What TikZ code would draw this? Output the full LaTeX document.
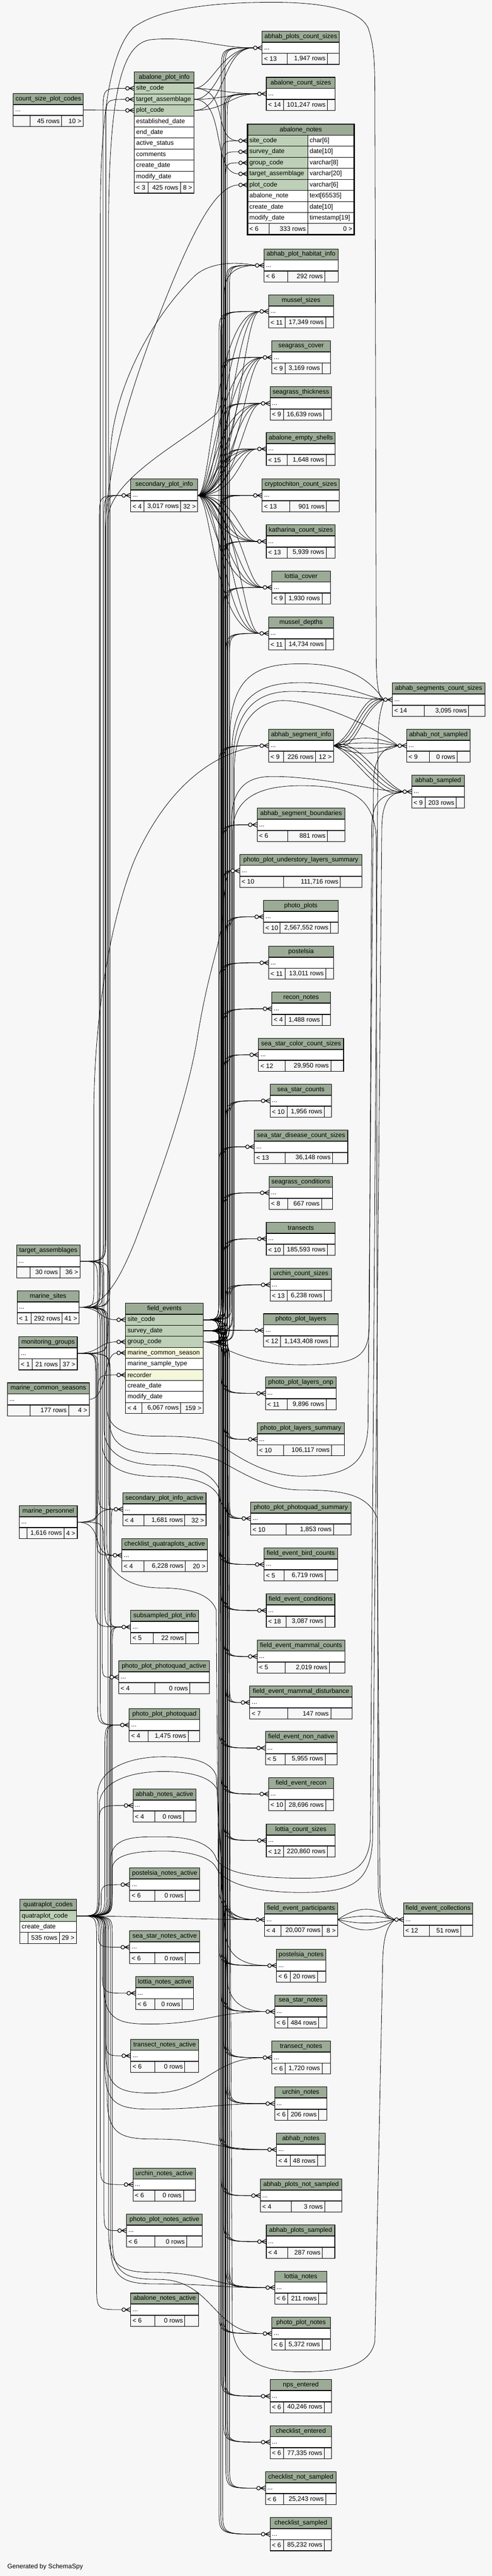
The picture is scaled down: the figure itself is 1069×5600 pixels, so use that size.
\documentclass[tikz,border=0pt]{standalone}
\usepackage{fontspec}
\setmainfont{Liberation Sans}
\usetikzlibrary{calc}
\pgfdeclarelayer{bglayer}
\pgfdeclarelayer{edgelayer}
\pgfsetlayers{bglayer,edgelayer,main}
\definecolor{bgc}{HTML}{F7F7F7}
\definecolor{hdrc}{HTML}{9BAB96}
\definecolor{keyc}{HTML}{BED1B8}
\definecolor{idxc}{HTML}{F4F7DA}
\newcommand{\schfont}{\fontsize{14}{16}\selectfont}
\tikzset{
  cellst/.style={draw=black, line width=1pt, inner sep=0pt, outer sep=0pt, minimum height=24pt},
  txt/.style={inner sep=0pt, font=\schfont, anchor=west},
  rel/.style={draw=black, line width=0.9pt},
  mkst/.style={draw=black, line width=1.3pt},
}
\newcommand{\Thdr}[5]{%
  \pgfmathsetmacro\schW{#3-#2}%
  \node[cellst, fill=hdrc, minimum width=\schW pt, anchor=north west] (#1) at (#2,#4) {};%
  \node[txt, anchor=center] (#1-title) at (#1.center) {#5};%
}
\newcommand{\Tbody}[4]{%
  \pgfmathsetmacro\schW{#3-#2}%
  \node[cellst, fill=white, minimum width=\schW pt, anchor=north west] (#1-b) at (#2,#4) {};%
  \node[txt] (#1-dots) at ([xshift=4pt,yshift=-3pt]#1-b.west) {...};%
  \coordinate (#1-in) at ([xshift=-19pt]#1-b.west);%
  \coordinate (#1-out) at (#1-b.east);%
}
\newcommand{\Tfoot}[9]{%
  \pgfmathsetmacro\schWa{#3-#2}\pgfmathsetmacro\schWb{#4-#3}\pgfmathsetmacro\schWc{#5-#4}%
  \node[cellst, fill=bgc, minimum width=\schWa pt, anchor=north west] (#1-f1) at (#2,#6) {};%
  \node[cellst, fill=bgc, minimum width=\schWb pt, anchor=north west] (#1-f2) at (#3,#6) {};%
  \node[cellst, fill=bgc, minimum width=\schWc pt, anchor=north west] (#1-f3) at (#4,#6) {};%
  \node[txt] (#1-fa) at ([xshift=4pt]#1-f1.west) {#7};%
  \node[txt, anchor=east] (#1-fb) at ([xshift=-4pt]#1-f2.east) {#8};%
  \node[txt, anchor=east] (#1-fc) at ([xshift=-4pt]#1-f3.east) {#9};%
}
\def\Tdbfoot#1#2#3#4#5#6#7|#8|#9\relax{\Tfoot{#1}{#2}{#3}{#4}{#5}{#6}{#7}{#8}{#9}}
\newcommand{\Tdb}[8]{%
  \Thdr{#1}{#2}{#3}{#4}{#5}%
  \Tbody{#1}{#2}{#3}{#4+24}%
  \Tdbfoot{#1}{#2}{#6}{#7}{#3}{#4+48}#8\relax
  \draw[line width=2pt] (#1.south west) -- (#1.south east) (#1-b.south west) -- (#1-b.south east);%
  \draw[line width=1.2pt] (#1.north west) rectangle (#1-f3.south east);%
}
\newcommand{\Tcol}[6]{%
  \pgfmathsetmacro\schW{#3-#2}%
  \node[cellst, fill=#5, minimum width=\schW pt, anchor=north west] (#1) at (#2,#4) {};%
  \node[txt] (#1-t) at ([xshift=4pt]#1.west) {#6};%
  \coordinate (#1-in) at ([xshift=-19pt]#1.west);%
  \coordinate (#1-out) at (#1.east);%
}
\newcommand{\Tcoltwo}[8]{%
  \pgfmathsetmacro\schW{#3-#2}\pgfmathsetmacro\schWb{#4-#3}%
  \node[cellst, fill=#6, minimum width=\schW pt, anchor=north west] (#1) at (#2,#5) {};%
  \node[cellst, fill=white, minimum width=\schWb pt, anchor=north west] (#1-type) at (#3,#5) {};%
  \node[txt] (#1-t) at ([xshift=4pt]#1.west) {#7};%
  \node[txt] (#1-tt) at ([xshift=4pt]#1-type.west) {#8};%
  \coordinate (#1-in) at ([xshift=-19pt]#1.west);%
  \coordinate (#1-out) at (#1-type.east);%
}
\newcommand{\Emark}[1]{%
  \draw[mkst, fill=bgc] ([xshift=4pt]#1) circle[radius=4pt];%
  \draw[mkst] ([xshift=8pt]#1) -- ([xshift=19pt,yshift=5pt]#1)
    ([xshift=8pt]#1) -- ([xshift=19pt]#1)
    ([xshift=8pt]#1) -- ([xshift=19pt,yshift=-5pt]#1);%
}
\newcommand{\Ebund}[3]{%
  \draw[rel] let \p1=(#1), \p2=(#2), \p3=(#3,0), \n1={ifthenelse(\y2>\y1,1,-1)}, \n2={min(55,abs(\y2-\y1)/2)} in
    (\p1) .. controls (\x3,\y1) .. (\x3,{\y1+\n1*\n2}) -- (\x3,{\y2-\n1*\n2}) .. controls (\x3,\y2) .. (\p2);%
}
\newcommand{\Esw}[4]{%
  \draw[rel] let \p1=(#1), \p2=(#2), \p3=(#3,#4) in
    (\p1) .. controls (\x3,\y1) .. (\x3,{\y1-40}) -- (\x3,{\y3+90}) .. controls (\x3,{\y3+10}) and ({\x3+30},\y3) .. ({\x3+100},\y3) .. controls ({\x3+220},\y3) and ({\x2-110},\y2) .. (\p2);%
}
\begin{document}
\begin{tikzpicture}[x=1pt,y=-1pt]
\useasboundingbox (0,0) rectangle (1069,5600);
\begin{pgfonlayer}{bglayer}
\fill[bgc] (0,0) rectangle (1069,5600);
\end{pgfonlayer}

% ---------------- right column tables
\Tdb{apcs}{570}{738}{68}{abhab\_plots\_count\_sizes}{624}{712}{< 13|1,947 rows|}
\Tdb{acs}{579}{729}{168}{abalone\_count\_sizes}{616}{712}{< 14|101,247 rows|}
\Tdb{aphi}{574}{735}{541}{abhab\_plot\_habitat\_info}{626}{706}{< 6|292 rows|}
\Tdb{ms}{584}{725}{641}{mussel\_sizes}{620}{708}{< 11|17,349 rows|}
\Tdb{sgc}{591}{718}{741}{seagrass\_cover}{620}{700}{< 9|3,169 rows|}
\Tdb{sgt}{587}{721}{841}{seagrass\_thickness}{616}{704}{< 9|16,639 rows|}
\Tdb{aes}{579}{729}{940}{abalone\_empty\_shells}{624}{709}{< 15|1,648 rows|}
\Tdb{ccs}{570}{738}{1041}{cryptochiton\_count\_sizes}{630}{710}{< 13|901 rows|}
\Tdb{kcs}{579}{729}{1141}{katharina\_count\_sizes}{624}{709}{< 13|5,939 rows|}
\Tdb{lc}{591}{718}{1241}{lottia\_cover}{620}{700}{< 9|1,930 rows|}
\Tdb{md}{584}{725}{1341}{mussel\_depths}{620}{708}{< 11|14,734 rows|}
\Tdb{ascs}{853}{1054}{1485}{abhab\_segments\_count\_sizes}{922}{1019}{< 14|3,095 rows|}
\Tdb{asi}{584}{725}{1585}{abhab\_segment\_info}{616}{686}{< 9|226 rows|12 >}
\Tdb{ans}{884}{1022}{1585}{abhab\_not\_sampled}{933}{994}{< 9|0 rows|}
\Tdb{asamp}{895}{1010}{1685}{abhab\_sampled}{924}{992}{< 9|203 rows|}
\Tdb{asb}{559}{750}{1757}{abhab\_segment\_boundaries}{626}{712}{< 6|881 rows|}
\Tdb{ppuls}{521}{787}{1857}{photo\_plot\_understory\_layers\_summary}{616}{740}{< 10|111,716 rows|}
\Tdb{pp}{573}{735}{1957}{photo\_plots}{609}{718}{< 10|2,567,552 rows|}
\Tdb{pos}{584}{725}{2057}{postelsia}{620}{708}{< 11|13,011 rows|}
\Tdb{rn}{591}{718}{2157}{recon\_notes}{620}{700}{< 4|1,488 rows|}
\Tdb{sscc}{562}{747}{2257}{sea\_star\_color\_count\_sizes}{620}{719}{< 12|29,950 rows|}
\Tdb{ssc}{587}{721}{2357}{sea\_star\_counts}{624}{705}{< 10|1,956 rows|}
\Tdb{ssdc}{553}{756}{2457}{sea\_star\_disease\_count\_sizes}{620}{723}{< 13|36,148 rows|}
\Tdb{sgcond}{585}{723}{2557}{seagrass\_conditions}{626}{699}{< 8|667 rows|}
\Tdb{tr}{579}{729}{2657}{transects}{616}{712}{< 10|185,593 rows|}
\Tdb{ucs}{587}{721}{2757}{urchin\_count\_sizes}{624}{705}{< 13|6,238 rows|}
\Tdb{ppl}{573}{735}{2856}{photo\_plot\_layers}{610}{718}{< 12|1,143,408 rows|}
\Tdb{pplo}{577}{731}{2993}{photo\_plot\_layers\_onp}{624}{709}{< 11|9,896 rows|}
\Tdb{ppls}{559}{749}{3093}{photo\_plot\_layers\_summary}{616}{721}{< 10|106,117 rows|}
\Tdb{pppqs}{545}{763}{3265}{photo\_plot\_photoquad\_summary}{622}{725}{< 10|1,853 rows|}
\Tdb{febc}{574}{734}{3365}{field\_event\_bird\_counts}{618}{707}{< 5|6,719 rows|}
\Tdb{fec}{579}{728}{3465}{field\_event\_conditions}{622}{707}{< 18|3,087 rows|}
\Tdb{femc}{559}{750}{3565}{field\_event\_mammal\_counts}{620}{716}{< 5|2,019 rows|}
\Tdb{femd}{543}{766}{3665}{field\_event\_mammal\_disturbance}{626}{719}{< 7|147 rows|}
\Tdb{fenn}{577}{733}{3764}{field\_event\_non\_native}{620}{707}{< 5|5,955 rows|}
\Tdb{fer}{584}{725}{3864}{field\_event\_recon}{620}{708}{< 10|28,696 rows|}
\Tdb{lcs}{579}{729}{3965}{lottia\_count\_sizes}{616}{712}{< 12|220,860 rows|}
\Tdb{fep}{575}{734}{4137}{field\_event\_participants}{611}{701}{< 4|20,007 rows|8 >}
\Tdb{fecol}{877}{1028}{4137}{field\_event\_collections}{933}{1002}{< 12|51 rows|}
\Tdb{posn}{601}{708}{4237}{postelsia\_notes}{631}{690}{< 6|20 rows|}
\Tdb{ssn}{597}{711}{4337}{sea\_star\_notes}{626}{693}{< 6|484 rows|}
\Tdb{tn}{591}{718}{4437}{transect\_notes}{620}{700}{< 6|1,720 rows|}
\Tdb{un}{597}{711}{4537}{urchin\_notes}{626}{693}{< 6|206 rows|}
\Tdb{abn}{601}{707}{4637}{abhab\_notes}{631}{690}{< 4|48 rows|}
\Tdb{apns}{566}{743}{4737}{abhab\_plots\_not\_sampled}{633}{706}{< 4|3 rows|}
\Tdb{aps}{579}{728}{4837}{abhab\_plots\_sampled}{626}{701}{< 4|287 rows|}
\Tdb{ln}{597}{711}{4937}{lottia\_notes}{626}{693}{< 6|211 rows|}
\Tdb{ppn}{591}{718}{5037}{photo\_plot\_notes}{620}{700}{< 6|5,372 rows|}
\Tdb{npse}{587}{721}{5173}{nps\_entered}{616}{705}{< 6|40,246 rows|}
\Tdb{cle}{587}{721}{5273}{checklist\_entered}{616}{705}{< 6|77,335 rows|}
\Tdb{clns}{577}{731}{5373}{checklist\_not\_sampled}{616}{708}{< 6|25,243 rows|}
\Tdb{cls}{587}{721}{5473}{checklist\_sampled}{616}{705}{< 6|85,232 rows|}

% ---------------- left and middle tables
\Tdb{cspc}{29}{181}{203}{count\_size\_plot\_codes}{65}{134}{|45 rows|10 >}
\Tdb{spi}{284}{430}{1041}{secondary\_plot\_info}{313}{393}{< 4|3,017 rows|32 >}
\Tdb{ta}{36}{174}{2706}{target\_assemblages}{65}{130}{|30 rows|36 >}
\Tdb{msites}{37}{172}{2806}{marine\_sites}{68}{135}{< 1|292 rows|41 >}
\Tdb{mg}{41}{168}{2906}{monitoring\_groups}{70}{130}{< 1|21 rows|37 >}
\Tdb{mcs}{16}{194}{3006}{marine\_common\_seasons}{65}{149}{|177 rows|4 >}
\Tdb{spia}{267}{448}{3245}{secondary\_plot\_info\_active}{313}{402}{< 4|1,681 rows|32 >}
\Tdb{mp}{42}{168}{3273}{marine\_personnel}{59}{139}{|1,616 rows|4 >}
\Tdb{cqa}{265}{451}{3345}{checklist\_quatraplots\_active}{313}{403}{< 4|6,228 rows|20 >}
\Tdb{sspi}{284}{432}{3501}{subsampled\_plot\_info}{333}{404}{< 5|22 rows|}
\Tdb{pppqa}{258}{455}{3610}{photo\_plot\_photoquad\_active}{337}{413}{< 4|0 rows|}
\Tdb{pppq}{281}{434}{3714}{photo\_plot\_photoquad}{322}{409}{< 4|1,475 rows|}
\Tdb{ana}{289}{426}{3889}{abhab\_notes\_active}{337}{399}{< 4|0 rows|}
\Tdb{pna}{282}{434}{4061}{postelsia\_notes\_active}{337}{403}{< 6|0 rows|}
\Tdb{ssna}{282}{434}{4197}{sea\_star\_notes\_active}{337}{403}{< 6|0 rows|}
\Tdb{lna}{295}{421}{4297}{lottia\_notes\_active}{337}{396}{< 6|0 rows|}
\Tdb{tna}{284}{432}{4433}{transect\_notes\_active}{337}{402}{< 6|0 rows|}
\Tdb{una}{289}{425}{4713}{urchin\_notes\_active}{337}{399}{< 6|0 rows|}
\Tdb{ppna}{275}{440}{4813}{photo\_plot\_notes\_active}{337}{406}{< 6|0 rows|}
\Tdb{abna}{284}{432}{4985}{abalone\_notes\_active}{337}{402}{< 6|0 rows|}

% abalone_plot_info
\Thdr{api}{292}{422}{156}{abalone\_plot\_info}
\Tcol{api-site}{292}{422}{180}{keyc}{site\_code}
\Tcol{api-target}{292}{422}{204}{keyc}{target\_assemblage}
\Tcol{api-plot}{292}{422}{228}{keyc}{plot\_code}
\Tcol{api-est}{292}{422}{252}{white}{established\_date}
\Tcol{api-end}{292}{422}{276}{white}{end\_date}
\Tcol{api-act}{292}{422}{300}{white}{active\_status}
\Tcol{api-com}{292}{422}{324}{white}{comments}
\Tcol{api-cd}{292}{422}{348}{white}{create\_date}
\Tcol{api-md}{292}{422}{372}{white}{modify\_date}
\Tfoot{api}{292}{322}{392}{422}{396}{< 3}{425 rows}{8 >}
\draw[line width=2pt] (api.south west) -- (api.south east);
\draw[line width=1.2pt] (api.north west) rectangle (api-f3.south east);

% abalone_notes
\Thdr{anotes}{538}{770}{270}{abalone\_notes}
\Tcoltwo{anotes-site}{538}{669}{770}{294}{keyc}{site\_code}{char[6]}
\Tcoltwo{anotes-survey}{538}{669}{770}{318}{keyc}{survey\_date}{date[10]}
\Tcoltwo{anotes-group}{538}{669}{770}{342}{keyc}{group\_code}{varchar[8]}
\Tcoltwo{anotes-target}{538}{669}{770}{366}{keyc}{target\_assemblage}{varchar[20]}
\Tcoltwo{anotes-plot}{538}{669}{770}{390}{keyc}{plot\_code}{varchar[6]}
\Tcoltwo{anotes-note}{538}{669}{770}{414}{white}{abalone\_note}{text[65535]}
\Tcoltwo{anotes-cd}{538}{669}{770}{438}{white}{create\_date}{date[10]}
\Tcoltwo{anotes-md}{538}{669}{770}{462}{white}{modify\_date}{timestamp[19]}
\Tfoot{anotes}{538}{585}{669}{770}{486}{< 6}{333 rows}{0 >}
\draw[line width=2pt] (anotes.south west) -- (anotes.south east);
\draw[line width=3pt] (anotes.north west) rectangle (anotes-f3.south east);

% field_events
\Thdr{fe}{273}{442}{2833}{field\_events}
\Tcol{fe-site}{273}{442}{2857}{keyc}{site\_code}
\Tcol{fe-survey}{273}{442}{2881}{keyc}{survey\_date}
\Tcol{fe-group}{273}{442}{2905}{keyc}{group\_code}
\Tcol{fe-mcs}{273}{442}{2929}{idxc}{marine\_common\_season}
\Tcol{fe-mst}{273}{442}{2953}{white}{marine\_sample\_type}
\Tcol{fe-recorder}{273}{442}{2977}{idxc}{recorder}
\Tcol{fe-cd}{273}{442}{3001}{white}{create\_date}
\Tcol{fe-md}{273}{442}{3025}{white}{modify\_date}
\Tfoot{fe}{273}{309}{393}{442}{3049}{< 4}{6,067 rows}{159 >}
\draw[line width=2pt] (fe.south west) -- (fe.south east);
\draw[line width=1.2pt] (fe.north west) rectangle (fe-f3.south east);

% quatraplot_codes
\Thdr{qc}{43}{166}{4129}{quatraplot\_codes}
\Tcol{qc-qcode}{43}{166}{4153}{keyc}{quatraplot\_code}
\Tcol{qc-cd}{43}{166}{4177}{white}{create\_date}
\Tfoot{qc}{43}{61}{129}{166}{4201}{}{535 rows}{29 >}
\draw[line width=2pt] (qc.south west) -- (qc.south east);
\draw[line width=1.2pt] (qc.north west) rectangle (qc-f3.south east);

\node[txt] (gen) at (16,5580) {Generated by SchemaSpy};

% ---------------- connectors
\begin{pgfonlayer}{edgelayer}
\draw[rel] (cspc-out) -- (api-plot-in);
\foreach \rw/\ca in {site/40,target/55,plot/70}{
  \draw[rel] (api-\rw-out) .. controls +(\ca,0) and +(-60,0) .. (acs-in);
  \draw[rel] (api-\rw-out) .. controls +(\ca,0) and +(-70,0) .. (apcs-in);
}
\draw[rel] (api-site-out) .. controls +(80,0) and +(-60,0) .. (anotes-site-in);
\draw[rel] (api-target-out) .. controls +(70,0) and +(-60,0) .. (anotes-target-in);

% field_events bundle
\foreach \cn [count=\ci] in {apcs,acs,aphi,ms,sgc,sgt,aes,ccs,kcs,lc,md,asi,asb,ppuls,pp,pos,rn,sscc,ssc,ssdc,sgcond,tr,ucs,ppl,pplo,ppls,pppqs,febc,fec,femc,femd,fenn,fer,lcs,fep,posn,ssn,tn,un,abn,apns,aps,ln,ppn,npse,cle,clns,cls}{
  \foreach \rw/\ro in {site/0,survey/4,group/8}{
    \pgfmathtruncatemacro\bx{476+mod(\ci*5,20)+\ro}
    \Ebund{fe-\rw-out}{\cn-in}{\bx}
  }
}
\Ebund{fe-site-out}{anotes-site-in}{482}
\Ebund{fe-survey-out}{anotes-survey-in}{486}
\Ebund{fe-group-out}{anotes-group-in}{490}

% secondary_plot_info fan
\foreach \cn in {ms,sgc,sgt,aes,ccs,kcs,lc,md}{
  \foreach \ca/\cb in {30/100,50/80,70/60,90/40}{
    \draw[rel] (spi-out) .. controls +(\ca,0) and +(-\cb,0) .. (\cn-in);
  }
}
% abhab_segment_info fan
\foreach \cn in {ascs,ans,asamp}{
  \foreach \dd in {-22,-8,8,22}{
    \draw[rel] (asi-out) .. controls +(50,\dd) and +(-50,\dd) .. (\cn-in);
  }
}
% field_event_participants -> collections
\foreach \dd in {-30,-10,10,30}{
  \draw[rel] (fep-out) .. controls +(45,\dd) and +(-45,\dd) .. (fecol-in);
}

% left bundle
\foreach \pa/\cn/\bb in {msites/api-site/224, msites/spi/216, msites/spia/236, msites/cqa/232, msites/sspi/228, msites/pppqa/222, msites/pppq/218, ta/api-target/230, ta/spi/226, ta/sspi/238, ta/pppq/212, mg/spi/234, mg/spia/214, mg/cqa/210, mg/sspi/208, mg/pppqa/240, mp/fe-recorder/212, qc-qcode/ana/215, qc-qcode/pna/220, qc-qcode/ssna/214, qc-qcode/lna/222, qc-qcode/tna/230, qc-qcode/una/218, qc-qcode/ppna/226, qc-qcode/abna/210, qc-qcode/cqa/235, qc-qcode/sspi/240, qc-qcode/sspi/244, qc-qcode/pppqa/238, qc-qcode/pppq/228, qc-qcode/pppq/232, qc-qcode/spia/242}{
  \Ebund{\pa-out}{\cn-in}{\bb}
}
\draw[rel] (msites-out) .. controls +(50,0) and +(-40,0) .. (fe-site-in);
\draw[rel] (mg-out) .. controls +(50,0) and +(-40,0) .. (fe-group-in);
\draw[rel] (mcs-out) .. controls +(40,0) and +(-30,0) .. (fe-mcs-in);
\draw[rel] (mp-out) .. controls +(60,0) and +(-50,0) .. (spia-in);
\draw[rel] (mp-out) .. controls +(60,0) and +(-50,0) .. (cqa-in);
\draw[rel] (qc-qcode-out) .. controls +(130,0) and +(-130,0) .. (fep-in);

% quatraplot_codes -> notes (S curves)
\Esw{qc-qcode-out}{ssn-in}{225}{4400}
\Esw{qc-qcode-out}{tn-in}{230}{4550}
\Esw{qc-qcode-out}{un-in}{228}{4585}
\Esw{qc-qcode-out}{abn-in}{233}{4650}
\Esw{qc-qcode-out}{ln-in}{236}{4940}
\Esw{qc-qcode-out}{ln-in}{240}{4965}
\Esw{qc-qcode-out}{ppn-in}{244}{4955}

% long routes
\draw[rel] (msites-out) .. controls (218,2842) .. (218,2790) -- (218,470) .. controls (218,250) and (240,110) .. (290,60) .. controls (350,15) and (480,5) .. (593,5) .. controls (700,5) and (780,20) .. (800,60) .. controls (814,100) and (815,140) .. (815,220) -- (818,1440) .. controls (819,1500) and (826,1521) .. (ascs-in);
\draw[rel] (msites-out) .. controls (236,2842) .. (236,2790) -- (236,480) .. controls (238,180) and (270,92) .. (330,86) .. controls (420,78) and (470,104) .. (apcs-in);
\draw[rel] (msites-out) .. controls (239,2842) .. (239,2790) -- (239,1000) .. controls (242,850) and (330,690) .. (423,600) .. controls (450,575) and (500,566) .. (aphi-in);
\draw[rel] (mg-out) .. controls (234,2942) .. (234,2890) -- (234,1130) .. controls (238,1040) and (400,960) .. (470,900) .. controls (485,880) and (487,850) .. (487,800) -- (487,640) .. controls (487,590) and (520,577) .. (aphi-in);
\draw[rel] (ta-out) .. controls (229,2742) .. (229,2690) -- (229,1150) .. controls (232,1000) and (300,800) .. (360,650) .. controls (420,500) and (470,402) .. (anotes-plot-in);
\draw[rel] (msites-out) .. controls (204,2842) .. (204,2790) -- (204,2400) .. controls (208,2150) and (255,1960) .. (293,1868) .. controls (350,1740) and (440,1640) .. (asi-in);
\draw[rel] (msites-out) .. controls (228,2842) and (260,2780) .. (293,2700) .. controls (350,2550) and (410,2380) .. (430,2250) .. controls (455,2100) and (478,2060) .. (484,1990) .. controls (488,1930) and (492,1893) .. (ppuls-in);
\draw[rel] (fe-site-out) .. controls (500,2869) .. (500,2830) -- (500,1600) .. controls (500,1460) and (570,1443) .. (655,1443) .. controls (760,1443) and (805,1480) .. (ascs-in);
\draw[rel] (fe-survey-out) .. controls (504,2893) .. (504,2850) -- (504,1640) .. controls (504,1500) and (580,1484) .. (655,1484) .. controls (740,1484) and (800,1515) .. (ascs-in);
\draw[rel] (fe-group-out) .. controls (507,2917) .. (507,2870) -- (507,1660) .. controls (507,1530) and (570,1503) .. (634,1503) .. controls (720,1503) and (790,1521) .. (ascs-in);
\draw[rel] (fe-group-out) .. controls (509,2917) .. (509,2870) -- (509,1680) .. controls (509,1560) and (570,1523) .. (614,1523) .. controls (700,1523) and (830,1590) .. (ans-in);
\draw[rel] (fe-site-out) .. controls (503,2869) .. (503,2830) -- (503,1790) .. controls (503,1700) and (550,1688) .. (593,1688) .. controls (700,1688) and (820,1721) .. (asamp-in);
\draw[rel] (fe-survey-out) .. controls (506,2893) .. (506,2850) -- (506,1810) .. controls (506,1725) and (580,1708) .. (655,1708) .. controls (760,1708) and (812,1730) .. (818,1820) -- (822,4100) .. controls (824,4160) and (840,4173) .. (fecol-in);
\draw[rel] (fe-group-out) .. controls (480,2917) and (520,2967) .. (655,2967) .. controls (780,2967) and (801,2950) .. (803,2880) -- (808,1800) .. controls (809,1740) and (830,1727) .. (asamp-in);
\draw[rel] (msites-out) .. controls (232,2842) .. (232,2890) -- (232,3062) .. controls (235,3110) and (280,3122) .. (340,3122) .. controls (400,3122) and (440,3125) .. (470,3135) .. controls (520,3170) and (580,3209) .. (655,3209) .. controls (760,3209) and (797,3180) .. (800,3100) -- (812,1700) .. controls (813,1640) and (840,1621) .. (ans-in);
\draw[rel] (mg-out) .. controls (238,2942) .. (238,2990) -- (238,3090) .. controls (240,3150) and (290,3160) .. (350,3160) .. controls (420,3160) and (450,3165) .. (477,3175) .. controls (540,3210) and (590,3239) .. (655,3239) .. controls (750,3239) and (800,3250) .. (820,3300) -- (826,4100) .. controls (828,4160) and (845,4173) .. (fecol-in);
\draw[rel] (ta-out) .. controls (222,2742) .. (222,2790) -- (222,3140) .. controls (225,3200) and (290,3210) .. (350,3210) .. controls (420,3210) and (460,3225) .. (474,3250) .. controls (485,3280) and (500,3301) .. (pppqs-in);
\draw[rel] (ta-out) .. controls (226,2742) .. (226,2790) -- (226,3110) .. controls (230,3170) and (290,3185) .. (350,3185) .. controls (420,3185) and (460,3200) .. (478,3240) -- (482,4100) .. controls (483,4160) and (520,4173) .. (fep-in);
\draw[rel] (mp-out) .. controls (225,3309) .. (225,3350) .. controls (228,3420) and (280,3452) .. (350,3452) .. controls (420,3452) and (460,3470) .. (470,3500) -- (475,4100) .. controls (476,4160) and (520,4173) .. (fep-in);
\draw[rel] (qc-qcode-out) .. controls (240,4165) .. (240,4120) -- (240,4040) .. controls (245,3990) and (300,3993) .. (354,3993) .. controls (420,3993) and (460,4010) .. (470,4040) .. controls (485,4075) and (570,4083) .. (655,4083) .. controls (760,4083) and (797,4066) .. (805,4000) -- (822,1600) .. controls (823,1545) and (835,1525) .. (ascs-in);
\draw[rel] (qc-qcode-out) .. controls (244,4165) .. (244,4120) -- (244,4060) .. controls (248,4030) and (300,4024) .. (354,4024) .. controls (420,4024) and (460,4040) .. (470,4060) .. controls (490,4100) and (570,4114) .. (655,4114) .. controls (770,4114) and (805,4090) .. (810,4000) -- (830,1800) .. controls (831,1745) and (845,1725) .. (asamp-in);
\draw[rel] (qc-qcode-out) .. controls (212,4165) .. (212,4120) -- (212,3900) .. controls (215,3840) and (290,3819) .. (354,3819) .. controls (420,3819) and (460,3830) .. (470,3860) -- (490,4200) .. controls (492,4260) and (540,4273) .. (posn-in);
\draw[rel] (qc-qcode-out) .. controls (216,4165) .. (216,4120) -- (216,3920) .. controls (220,3870) and (290,3851) .. (354,3851) .. controls (420,3851) and (460,3865) .. (472,3890) -- (494,4300) .. controls (496,4360) and (540,4373) .. (ssn-in);
\draw[rel] (fe-survey-out) .. controls (495,2893) .. (495,2940) -- (505,5060) .. controls (510,5130) and (570,5156) .. (655,5156) .. controls (750,5156) and (805,5140) .. (815,5090) -- (832,4260) .. controls (834,4200) and (845,4185) .. (fecol-in);
\end{pgfonlayer}

% ---------------- markers
\foreach \mm in {apcs,acs,anotes-site,anotes-survey,anotes-group,anotes-target,anotes-plot,aphi,ms,sgc,sgt,aes,ccs,kcs,lc,md,ascs,asi,ans,asamp,asb,ppuls,pp,pos,rn,sscc,ssc,ssdc,sgcond,tr,ucs,ppl,pplo,ppls,pppqs,febc,fec,femc,femd,fenn,fer,lcs,fep,fecol,posn,ssn,tn,un,abn,apns,aps,ln,ppn,npse,cle,clns,cls,api-site,api-target,api-plot,spi,fe-site,fe-group,fe-mcs,fe-recorder,spia,cqa,sspi,pppqa,pppq,ana,pna,ssna,lna,tna,una,ppna,abna}{
  \Emark{\mm-in}
}
\end{tikzpicture}
\end{document}
